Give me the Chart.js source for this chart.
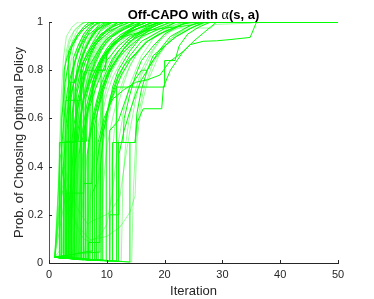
<!DOCTYPE html>
<html>
<head>
<meta charset="utf-8">
<script src="https://cdn.jsdelivr.net/npm/chart.js@4.4.1/dist/chart.umd.min.js"></script>
<style>
html,body{margin:0;padding:0;background:#fff;}
canvas{display:block;}
</style>
</head>
<body>
<canvas id="c" width="374" height="299"></canvas>
<script>
// ---- chart text ----
const titleMain = "Off-CAPO with ";
const titleGreek = "\u03B1";
const titleTail = "(s, a)";
const xLabel = "Iteration";
const yLabel = "Prob. of Choosing Optimal Policy";
const xTicks = [0, 10, 20, 30, 40, 50];
const yTicks = [0, 0.2, 0.4, 0.6, 0.8, 1];
const yTickLabels = ["0", "0.2", "0.4", "0.6", "0.8", "1"];

// ---- runs drawn fully opaque: [iteration, probability] ----
const s01 = [[1,.024],[1.8,.022],[1.8,.5],[4.5,.5],[4.6,.75],[5.5,.84],[6.5,.9],[7.5,.95],[9,.99],[10,1],[50,1]];
const s02 = [[1,.024],[2.9,.02],[2.9,.675],[5.4,.675],[5.5,.8],[6.5,.87],[8,.93],[9,.97],[11,1],[50,1]];
const s03 = [[1,.024],[3,.02],[3,.29],[6,.29],[6.1,.55],[7,.66],[8,.75],[9,.82],[10,.87],[12,.93],[14,.97],[16,1],[50,1]];
const s04 = [[1,.024],[3.7,.018],[3.7,.75],[4.5,.75],[5,.83],[6,.91],[7,.96],[8,.99],[9,1],[50,1]];
const s05 = [[1,.024],[5,.04],[8.8,.045],[8.8,.5],[10,.6],[11,.73],[12,.8],[14,.88],[16,.94],[18,.98],[20,1],[50,1]];
const s06 = [[1,.024],[6.8,.012],[6.8,.085],[8.8,.085],[8.9,.4],[9.5,.55],[10.5,.68],[12,.78],[14,.86],[16,.92],[19,.96],[22,1],[50,1]];
const s07 = [[1,.024],[2.8,.02],[2.8,.505],[6.5,.505],[6.6,.63],[7.5,.72],[8.5,.8],[9.7,.8],[10,.87],[12,.93],[14,.97],[16,1],[50,1]];
const s08 = [[1,.024],[6,.012],[6,.33],[7.4,.33],[7.5,.55],[8,.62],[9,.7],[10,.77],[11,.82],[13,.89],[15,.94],[18,.98],[20,1],[50,1]];
const s09 = [[1,.024],[12,.006],[12,.5],[12.8,.5],[13,.6],[14,.7],[15,.78],[16,.84],[18,.9],[20,.95],[23,.99],[25,1],[50,1]];
const s10 = [[1,.024],[14,.004],[14,.5],[14.9,.5],[15.2,.62],[16,.72],[17,.8],[19,.88],[21,.94],[24,.98],[26,1],[50,1]];
const s11 = [[1,.024],[11.7,.008],[11.7,.73],[20,.73],[20,.84],[21.8,.84],[22.5,.9],[24,.95],[26,.98],[28,1],[50,1]];
const s12 = [[1,.024],[11,.008],[11,.5],[14.9,.5],[15.2,.58],[16.3,.64],[19.5,.64],[19.8,.73],[21,.8],[23,.87],[25,.92],[27,.96],[29,1],[50,1]];
const s13 = [[1,.024],[10.5,.008],[10.5,.55],[12,.59],[13,.66],[14,.73],[16,.8],[17,.8],[18,.86],[20,.9],[22,.94],[25,.98],[27,1],[50,1]];
const s14 = [[1,.024],[8.5,.01],[8.5,.5],[9.5,.6],[11,.68],[13,.72],[15,.75],[17,.76],[19.2,.78],[20.9,.837],[22.1,.857],[23.2,.878],[24.4,.906],[26.7,.92],[29,.922],[31.3,.927],[34.8,.936],[35.9,1],[50,1]];
const s15 = [[1,.024],[5,.02],[5,.5],[5.5,.6],[6,.68],[7,.75],[8,.8],[9,.85],[11,.9],[13,.94],[16,.96],[20,.975],[24,.985],[27,1],[50,1]];
const s16 = [[1,.024],[3.3,.02],[3.3,.67],[4,.72],[5,.8],[6,.87],[7,.92],[8,.96],[9.5,.99],[11,1],[50,1]];
const s17 = [[1,.024],[3.9,.018],[3.9,.5],[4.5,.6],[5,.68],[6,.79],[6.5,.8],[9.7,.8],[10,.86],[11,.91],[13,.95],[15,.98],[17,1],[50,1]];
const s18 = [[1,.024],[4.5,.018],[4.5,.4],[5,.55],[6,.68],[7,.77],[8,.84],[9,.89],[11,.94],[13,.97],[15,1],[50,1]];
const s19 = [[1,.024],[5.4,.016],[5.4,.6],[6,.68],[7,.76],[8,.83],[9,.88],[10,.92],[12,.96],[14,.99],[15,1],[50,1]];
const s20 = [[1,.024],[6.6,.014],[6.6,.45],[7.5,.58],[8.5,.68],[9.5,.75],[11,.82],[13,.89],[15,.94],[17,.97],[19,1],[50,1]];
const s21 = [[1,.024],[7.1,.012],[7.1,.65],[8,.72],[9,.78],[10,.84],[12,.9],[14,.94],[17,.97],[20,1],[50,1]];
const s22 = [[1,.024],[7.9,.011],[7.9,.57],[8.5,.64],[9.5,.72],[10.5,.79],[12,.85],[14,.9],[16,.94],[19,.97],[22,1],[50,1]];
const s23 = [[1,.024],[9.9,.009],[9.9,.62],[11,.7],[12,.77],[13,.82],[15,.87],[17,.92],[20,.96],[23,.99],[24,1],[50,1]];
const s24 = [[1,.024],[4,.035],[6,.045],[7.5,.05],[7.5,.29],[8.2,.33],[8.2,.6],[9,.7],[10,.78],[12,.86],[14,.92],[17,.96],[20,.99],[21,1],[50,1]];
const s25 = [[1,.024],[2.2,.022],[2.2,.6],[2.8,.75],[3.5,.85],[4,.9],[5,.95],[6,.98],[7,1],[50,1]];
const s26 = [[1,.024],[2.5,.02],[2.5,.4],[3,.58],[3.5,.7],[4,.79],[5,.88],[6,.93],[7,.97],[8.5,1],[50,1]];
const s27 = [[1,.024],[4.2,.017],[4.2,.85],[5,.9],[6,.95],[7,.98],[8,1],[50,1]];
const s28 = [[1,.024],[6,.014],[6,.78],[7,.85],[8,.9],[9,.94],[10,.97],[12,1],[50,1]];
const s29 = [[1,.024],[5.7,.015],[5.7,.5],[6.5,.62],[7.5,.72],[8.5,.8],[9.5,.86],[11,.91],[13,.95],[16,.98],[18,1],[50,1]];
const s30 = [[1,.024],[9.3,.009],[9.3,.72],[10,.78],[11,.84],[12,.88],[14,.93],[16,.96],[18,.99],[19,1],[50,1]];
const s31 = [[1,.024],[3.5,.02],[3.5,.25],[4,.4],[4.5,.55],[5,.65],[6,.77],[7,.86],[8,.91],[9,.95],[11,.98],[12,1],[50,1]];
const s32 = [[1,.024],[10.5,.009],[10.5,.2],[12,.2],[12.1,.45],[13,.55],[14,.63],[15,.7],[16,.76],[18,.84],[20,.9],[22,.94],[25,.98],[27,1],[50,1]];
const s33 = [[1,.024],[2.1,.02],[2.1,.45],[2.6,.6],[3.2,.72],[4,.8],[4.8,.86],[5.5,.9],[6.5,.94],[8,.97],[9,1],[50,1]];
const s34 = [[1,.024],[3.1,.02],[3.1,.55],[3.6,.65],[4.2,.74],[5,.8],[5.6,.85],[6.5,.9],[7.5,.94],[8.5,.97],[10,.99],[11,1],[50,1]];
const s35 = [[1,.024],[4,.018],[4,.62],[4.6,.7],[5.2,.77],[6,.84],[7,.88],[8,.92],[9,.95],[11,.98],[13,1],[50,1]];
const s36 = [[1,.024],[4.8,.017],[4.8,.7],[5.5,.77],[6.2,.83],[7,.87],[7.8,.9],[9,.93],[10.5,.96],[12,.98],[14,1],[50,1]];
const s37 = [[1,.024],[5.2,.016],[5.2,.45],[5.8,.55],[6.5,.65],[7.2,.72],[8,.78],[9,.84],[10,.88],[11.5,.92],[13,.95],[15,.98],[16,1],[50,1]];
const s38 = [[1,.024],[6.3,.014],[6.3,.68],[7,.74],[8,.8],[9,.85],[10,.89],[11,.92],[12.5,.95],[14,.97],[16,.99],[17,1],[50,1]];
const s39 = [[1,.024],[7.5,.012],[7.5,.75],[8.3,.8],[9.2,.85],[10,.88],[11,.91],[12,.93],[13.5,.95],[15,.97],[18,.99],[20,1],[50,1]];
const s40 = [[1,.024],[8.2,.011],[8.2,.4],[8.8,.5],[9.5,.58],[10.5,.66],[11.5,.72],[12.5,.78],[14,.84],[15.5,.88],[17,.92],[19,.95],[21,.97],[24,1],[50,1]];
const s41 = [[1,.024],[2.6,.02],[2.6,.8],[3.2,.86],[4,.9],[5,.94],[6,.97],[7,.99],[8,1],[50,1]];
const s42 = [[1,.024],[3.4,.02],[3.4,.88],[4.2,.92],[5,.95],[6,.97],[7,.99],[8,1],[50,1]];
const s43 = [[1,.024],[4.4,.018],[4.4,.55],[5,.64],[5.6,.72],[6.3,.78],[7,.82],[8,.86],[9,.9],[10,.93],[12,.96],[14,.98],[16,1],[50,1]];
const s44 = [[1,.024],[5.6,.016],[5.6,.82],[6.5,.86],[7.5,.9],[8.5,.93],[10,.96],[12,.98],[13,1],[50,1]];
const s45 = [[1,.024],[6.8,.013],[6.8,.5],[7.5,.6],[8.3,.68],[9,.74],[10,.8],[11,.85],[12,.88],[13.5,.92],[15,.95],[17,.98],[19,1],[50,1]];
const s46 = [[1,.024],[9,.01],[9,.83],[10,.87],[11,.9],[12.5,.93],[14,.96],[16,.98],[18,1],[50,1]];

// ---- runs drawn semi-transparent ----
const f01 = [[1,.024],[1.5,.2],[1.8,.45],[2.1,.68],[2.5,.85],[3,.94],[4,.98],[5,1],[50,1]];
const f02 = [[1,.024],[1.8,.05],[2.2,.35],[2.6,.6],[3,.76],[3.5,.86],[4,.92],[5,.97],[6,1],[50,1]];
const f03 = [[1,.024],[2.3,.04],[2.7,.3],[3.1,.52],[3.5,.67],[4,.78],[5,.88],[6,.94],[7,.97],[9,1],[50,1]];
const f04 = [[1,.024],[2.8,.03],[3.2,.25],[3.6,.45],[4,.6],[4.5,.72],[5,.8],[6,.89],[7,.94],[8,.97],[10,1],[50,1]];
const f05 = [[1,.024],[3.2,.03],[3.6,.2],[4,.38],[4.5,.55],[5,.67],[6,.81],[7,.89],[8,.94],[10,.98],[12,1],[50,1]];
const f06 = [[1,.024],[2,.45],[2.8,.3],[3.6,.15],[4.2,.3],[5,.5],[6,.66],[7,.77],[8,.85],[10,.93],[12,.97],[14,1],[50,1]];
const f07 = [[1,.024],[2,.5],[3,.35],[3.9,.22],[4.5,.4],[5.2,.58],[6,.7],[7,.8],[8.5,.88],[10,.93],[13,.98],[15,1],[50,1]];
const f08 = [[1,.024],[2.5,.42],[3.5,.32],[4.8,.23],[6.7,.16],[7.1,.17],[9,.19],[10.6,.21],[12.3,.28],[13,.4],[14,.55],[15,.68],[16,.78],[18,.88],[20,.95],[23,1],[50,1]];
const f09 = [[1,.024],[2.3,.38],[3.5,.25],[5,.15],[7.1,.097],[10,.11],[12.3,.15],[14,.21],[14.9,.28],[15.2,.51],[16,.65],[17,.75],[19,.86],[21,.93],[24,.98],[26,1],[50,1]];
const f10 = [[1,.024],[3.5,.03],[4,.25],[4.5,.45],[5,.57],[5.5,.64],[6.5,.74],[7.5,.82],[9,.9],[11,.95],[13,.98],[15,1],[50,1]];
const f11 = [[1,.024],[4,.025],[4.5,.2],[5,.38],[5.5,.5],[6.5,.65],[7.5,.75],[8.5,.82],[10,.89],[12,.94],[14,.97],[17,1],[50,1]];
const f12 = [[1,.024],[4.5,.02],[5,.18],[5.5,.35],[6,.48],[7,.64],[8,.74],[9,.81],[10,.86],[12,.92],[15,.97],[18,1],[50,1]];
const f13 = [[1,.024],[5,.02],[5.5,.15],[6,.3],[6.5,.42],[7.5,.58],[8.5,.69],[10,.79],[12,.87],[14,.92],[17,.96],[20,.99],[22,1],[50,1]];
const f14 = [[1,.024],[6,.015],[6.5,.12],[7,.25],[8,.45],[9,.6],[10,.7],[11,.77],[13,.86],[15,.92],[18,.96],[21,1],[50,1]];
const f15 = [[1,.024],[3,.03],[3.3,.5],[3.7,.7],[4.2,.82],[5,.9],[6,.95],[7,.98],[8,1],[50,1]];
const f16 = [[1,.024],[3.5,.025],[3.8,.45],[4.2,.65],[4.7,.76],[5.5,.85],[6.5,.91],[8,.96],[10,.99],[11,1],[50,1]];
const f17 = [[1,.024],[2.5,.35],[3.2,.25],[4,.2],[5,.14],[6,.1],[7,.09],[8,.1],[9,.12],[10,.16],[11,.3],[12,.5],[13,.64],[14,.74],[16,.86],[18,.93],[21,.98],[23,1],[50,1]];
const f18 = [[1,.024],[4,.02],[4.2,.6],[4.6,.72],[5.2,.8],[6,.87],[7,.92],[8,.95],[10,.98],[12,1],[50,1]];
const f19 = [[1,.024],[4.8,.02],[5,.5],[5.5,.62],[6.2,.72],[7,.8],[8,.86],[9.5,.92],[11,.95],[13,.98],[15,1],[50,1]];
const f20 = [[1,.024],[5.5,.02],[5.8,.4],[6.3,.55],[7,.66],[8,.76],[9,.83],[10,.88],[12,.93],[15,.97],[18,1],[50,1]];
const f21 = [[1,.024],[7,.015],[7.3,.35],[8,.5],[9,.63],[10,.73],[11,.8],[13,.88],[15,.93],[18,.97],[21,1],[50,1]];
const f22 = [[1,.024],[14.3,.004],[14.6,.3],[15,.5],[15.5,.62],[16.5,.73],[18,.83],[20,.9],[22,.95],[25,.98],[28,1],[50,1]];
const f23 = [[1,.024],[2,.02],[2.2,.55],[2.6,.78],[3,.88],[3.5,.93],[4.5,.97],[6,1],[50,1]];
const f24 = [[1,.024],[3.8,.02],[4.1,.3],[4.6,.5],[5.2,.63],[6,.74],[7,.83],[8,.88],[9,.92],[11,.96],[13,.98],[16,1],[50,1]];
const f25 = [[1,.024],[5,.03],[5.3,.25],[5.8,.45],[6.5,.6],[7.5,.72],[8.5,.8],[10,.87],[12,.92],[14,.95],[17,.98],[20,1],[50,1]];
const f26 = [[1,.024],[2.3,.3],[3.2,.2],[4,.25],[4.5,.45],[5,.6],[5.5,.7],[6.5,.82],[7.5,.9],[9,.95],[11,.98],[13,1],[50,1]];
const f27 = [[1,.024],[8,.012],[8.3,.3],[9,.45],[10,.58],[11,.68],[12,.75],[14,.84],[16,.9],[19,.95],[22,.975],[28,.975],[28.7,.99],[34.8,.995],[36,1],[50,1]];
const f28 = [[1,.024],[6,.02],[6.2,.55],[6.8,.66],[7.5,.74],[8.5,.82],[10,.88],[12,.93],[14,.96],[17,.99],[19,1],[50,1]];
const f29 = [[1,.024],[3,.025],[3.5,.35],[3.8,.55],[4.3,.7],[5,.8],[6,.88],[7,.93],[8.5,.97],[10,1],[50,1]];
const f30 = [[1,.024],[4.5,.025],[4.8,.7],[5.5,.82],[6.5,.9],[7.5,.95],[9,.98],[11,1],[50,1]];
const f31 = [[1,.024],[3,.3],[3.8,.19],[4.5,.3],[5.2,.48],[6,.62],[7,.74],[8,.82],[9,.88],[11,.94],[13,.97],[16,1],[50,1]];
const f32 = [[1,.024],[9,.01],[9.3,.3],[10,.48],[11,.6],[12,.7],[13,.77],[15,.86],[17,.92],[20,.96],[23,.99],[25,1],[50,1]];
const f33 = [[1,.024],[2.5,.03],[2.8,.5],[3.2,.7],[3.7,.82],[4.3,.9],[5,.95],[6,.98],[7,1],[50,1]];
const f34 = [[1,.024],[3.3,.025],[3.6,.6],[4,.75],[4.6,.84],[5.3,.9],[6.3,.95],[7.5,.98],[9,1],[50,1]];
const f35 = [[1,.024],[4.2,.022],[4.5,.4],[5,.58],[5.6,.7],[6.3,.79],[7.2,.86],[8.2,.91],[9.5,.95],[11,.98],[13,1],[50,1]];
const f36 = [[1,.024],[5.2,.02],[5.5,.6],[6,.7],[6.8,.79],[7.8,.86],[9,.91],[10.5,.95],[12,.98],[14,1],[50,1]];
const f37 = [[1,.024],[6.5,.018],[6.8,.5],[7.3,.62],[8,.72],[9,.8],[10,.86],[11.5,.91],[13,.95],[15,.98],[17,1],[50,1]];
const f38 = [[1,.024],[7.5,.015],[7.8,.55],[8.3,.66],[9,.75],[10,.82],[11,.87],[12.5,.92],[14,.95],[16,.98],[18,1],[50,1]];
const f39 = [[1,.024],[2.2,.4],[3,.3],[3.7,.27],[4.3,.4],[4.8,.55],[5.4,.67],[6.2,.77],[7.2,.85],[8.5,.91],[10,.95],[12,.98],[14,1],[50,1]];
const f40 = [[1,.024],[10.5,.008],[10.8,.4],[11.3,.55],[12,.66],[13,.75],[14,.82],[15.5,.88],[17,.93],[19,.96],[22,.99],[24,1],[50,1]];
const f41 = [[1,.024],[12.5,.006],[12.8,.35],[13.3,.5],[14,.62],[15,.72],[16,.8],[17.5,.87],[19,.92],[21,.96],[24,.99],[26,1],[50,1]];
const f42 = [[1,.024],[1.6,.3],[2,.55],[2.4,.72],[2.9,.84],[3.5,.91],[4.3,.96],[5.5,.99],[6.5,1],[50,1]];

const strongRuns = [s01,s02,s03,s04,s05,s06,s07,s08,s09,s10,s11,s12,s13,s14,s15,s16,s17,s18,s19,s20,s21,s22,s23,s24,s25,s26,s27,s28,s29,s30,s31,s32,s33,s34,s35,s36,s37,s38,s39,s40,s41,s42,s43,s44,s45,s46];
const faintRuns = [f01,f02,f03,f04,f05,f06,f07,f08,f09,f10,f11,f12,f13,f14,f15,f16,f17,f18,f19,f20,f21,f22,f23,f24,f25,f26,f27,f28,f29,f30,f31,f32,f33,f34,f35,f36,f37,f38,f39,f40,f41,f42];

const STRONG = '#00ff00';
const FAINT = 'rgba(0,255,0,0.4)';
const AXIS = '#262626';
const TEXT = '#262626';
const FONT = "'Liberation Sans', Arial, Helvetica, sans-serif";

function toDataset(run, color) {
  return {
    data: run.map(p => ({x: p[0], y: p[1]})),
    borderColor: color,
    borderWidth: 1,
    pointRadius: 0,
    pointHoverRadius: 0,
    fill: false,
    tension: 0
  };
}

const datasets = [];
faintRuns.forEach(r => datasets.push(toDataset(r, FAINT)));
strongRuns.forEach(r => datasets.push(toDataset(r, STRONG)));

const decorPlugin = {
  id: 'decor',
  afterDraw(chart) {
    const ctx = chart.ctx;
    const xs = chart.scales.x, ys = chart.scales.y;
    const area = chart.chartArea;
    ctx.save();
    ctx.strokeStyle = AXIS;
    ctx.lineWidth = 1;
    ctx.beginPath();
    xTicks.forEach(v => {
      const px = Math.round(xs.getPixelForValue(v)) + 0.5;
      ctx.moveTo(px, area.bottom);
      ctx.lineTo(px, area.bottom - 3);
    });
    yTicks.forEach(v => {
      const py = Math.round(ys.getPixelForValue(v)) + 0.5;
      ctx.moveTo(area.left, py);
      ctx.lineTo(area.left + 3, py);
    });
    ctx.stroke();
    const fMain = "bold 13px " + FONT;
    const fGreek = "14px 'Liberation Serif', 'DejaVu Serif', serif";
    ctx.font = fMain;
    const w1 = ctx.measureText(titleMain).width;
    const w3 = ctx.measureText(titleTail).width;
    ctx.font = fGreek;
    const w2 = ctx.measureText(titleGreek).width;
    const total = w1 + w2 + w3;
    const cx = (area.left + area.right) / 2;
    let x = cx - total / 2;
    const base = 18.5;
    ctx.fillStyle = '#000';
    ctx.textAlign = 'left';
    ctx.textBaseline = 'alphabetic';
    ctx.font = fMain; ctx.fillText(titleMain, x, base); x += w1;
    ctx.font = fGreek; ctx.fillText(titleGreek, x, base); x += w2;
    ctx.font = fMain; ctx.fillText(titleTail, x, base);
    ctx.restore();
  }
};

new Chart(document.getElementById('c'), {
  type: 'line',
  data: { datasets },
  options: {
    responsive: false,
    animation: false,
    devicePixelRatio: 1,
    layout: { padding: { left: 0, right: 36, top: 22, bottom: 0 } },
    plugins: { legend: { display: false }, tooltip: { enabled: false }, title: { display: false } },
    events: [],
    scales: {
      x: {
        type: 'linear', min: 0, max: 50,
        afterFit(s) { s.height = 36; },
        afterBuildTicks(s) { s.ticks = xTicks.map(v => ({value: v})); },
        ticks: { color: TEXT, font: { family: FONT, size: 11 }, padding: 5, maxRotation: 0 },
        grid: { drawOnChartArea: false, drawTicks: false },
        border: { display: true, color: AXIS, width: 1 },
        title: { display: true, text: xLabel, color: TEXT, font: { family: FONT, size: 13 }, padding: { top: 0, bottom: 0 } }
      },
      y: {
        type: 'linear', min: 0, max: 1,
        afterFit(s) { s.width = 49; },
        afterBuildTicks(s) { s.ticks = yTicks.map(v => ({value: v})); },
        ticks: {
          color: TEXT, font: { family: FONT, size: 11 }, padding: 6,
          callback(value) { const i = yTicks.indexOf(value); return i >= 0 ? yTickLabels[i] : ''; }
        },
        grid: { drawOnChartArea: false, drawTicks: false },
        border: { display: true, color: '#555555', width: 1 },
        title: { display: true, text: yLabel, color: TEXT, font: { family: FONT, size: 13 }, padding: { top: 12, bottom: 0 } }
      }
    }
  },
  plugins: [decorPlugin]
});
</script>
</body>
</html>
